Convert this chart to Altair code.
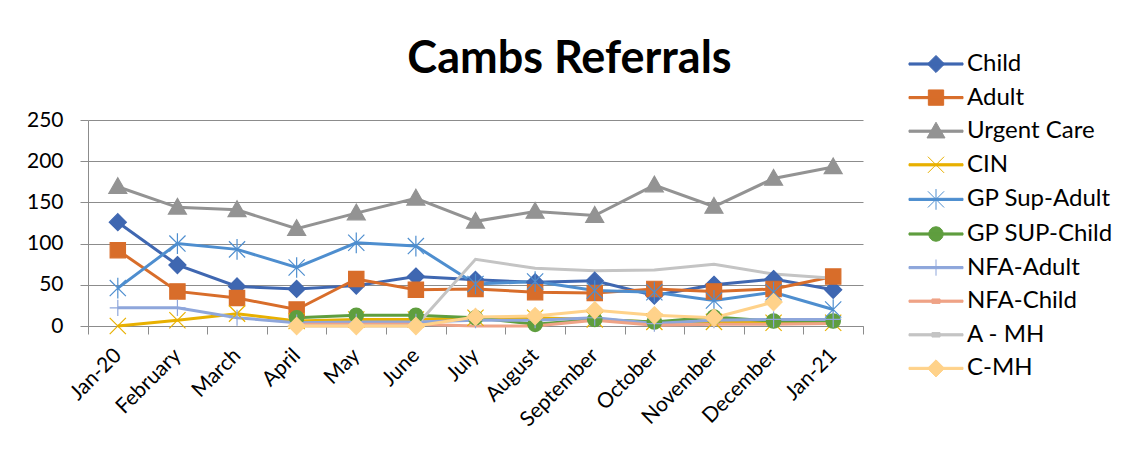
import altair as alt
import pandas as pd

months = ["Jan-20", "February", "March", "April", "May", "June", "July",
          "August", "September", "October", "November", "December", "Jan-21"]
series_names = ["Child", "Adult", "Urgent Care", "CIN", "GP Sup-Adult",
                "GP SUP-Child", "NFA-Adult", "NFA-Child", "A - MH", "C-MH"]

child = [126, 74, 48, 45, 49, 60, 56, 53, 55, 37, 50, 57, 44]
adult = [92, 42, 34, 20, 57, 44, 45, 41, 40, 45, 42, 45, 60]
urgent_care = [169, 144, 141, 118, 137, 155, 127, 139, 134, 171, 145, 179, 193]
cin = [0, 7, 15, 6, 8, 8, 10, 10, 8, 5, 5, 4, 4]
gp_sup_adult = [46, 100, 93, 71, 101, 97, 51, 54, 43, 41, 31, 41, 20]
gp_sup_child = [None, None, None, 10, 13, 13, 10, 2, 8, 5, 11, 6, 6]
nfa_adult = [22, 22, 10, 4, 5, 5, 7, 7, 10, 3, 7, 8, 8]
nfa_child = [None, None, None, 2, 2, 2, 0, 0, 7, 1, 2, 2, 3]
a_mh = [None, None, None, 0, 0, 0, 81, 70, 67, 68, 75, 63, 58]
c_mh = [None, None, None, 0, 0, 0, 11, 12, 19, 13, 10, 29, None]

all_values = [child, adult, urgent_care, cin, gp_sup_adult,
              gp_sup_child, nfa_adult, nfa_child, a_mh, c_mh]

colors = ["#3F67B1", "#D86D2A", "#939393", "#E8B000", "#4E8ECF",
          "#5F9E3F", "#8EA6DB", "#EFA386", "#C4C4C4", "#FFD28A"]

# marker shapes (unit paths) for the plotted points
marker_series = ["Child", "Adult", "Urgent Care", "CIN", "GP Sup-Adult",
                 "GP SUP-Child", "NFA-Adult", "C-MH"]
marker_paths = [
    "M0,-0.95L0.95,0L0,0.95L-0.95,0Z",
    "M-0.85,-0.85H0.85V0.85H-0.85Z",
    "M0,-1L1,0.75H-1Z",
    "M-0.9,-0.9L0.9,0.9M-0.9,0.9L0.9,-0.9",
    "M-0.9,-0.9L0.9,0.9M-0.9,0.9L0.9,-0.9M0,-1.15V1.15",
    "M-0.8,0A0.8,0.8,0,1,1,0.8,0A0.8,0.8,0,1,1,-0.8,0Z",
    "M-0.9,0H0.9M0,-0.9V0.9",
    "M0,-0.95L0.95,0L0,0.95L-0.95,0Z",
]
marker_colors = [colors[series_names.index(s)] for s in marker_series]

# legend symbols: line segment plus marker (unit paths)
LINE = "M-5,-0.12H1V0.12H-5Z"
legend_marks = {
    "Child": "M-2,-0.95L-1.05,0L-2,0.95L-2.95,0Z",
    "Adult": "M-2.85,-0.85H-1.15V0.85H-2.85Z",
    "Urgent Care": "M-2,-1L-1,0.75H-3Z",
    "CIN": "M-2.9,-0.9L-1.1,0.9M-2.9,0.9L-1.1,-0.9",
    "GP Sup-Adult": "M-2.9,-0.9L-1.1,0.9M-2.9,0.9L-1.1,-0.9M-2,-1.15V1.15",
    "GP SUP-Child": "M-2.8,0A0.8,0.8,0,1,1,-1.2,0A0.8,0.8,0,1,1,-2.8,0Z",
    "NFA-Adult": "M-2,-0.9V0.9",
    "NFA-Child": "M-2.45,-0.25H-1.55V0.25H-2.45Z",
    "A - MH": "M-2.45,-0.25H-1.55V0.25H-2.45Z",
    "C-MH": "M-2,-0.95L-1.05,0L-2,0.95L-2.95,0Z",
}
shape_expr = "'" + LINE + "'"
for name in reversed(series_names):
    shape_expr = "datum.value === '" + name + "' ? '" + LINE + legend_marks[name] + "' : " + shape_expr

rows = []
for name, vals in zip(series_names, all_values):
    for m, v in zip(months, vals):
        if v is not None:
            rows.append({"month": m, "series": name, "value": v})
df = pd.DataFrame(rows)
df_markers = df[df["series"].isin(marker_series)]

GRID = "#8C8C8C"

x_enc = alt.X(
    "month:N", sort=months, bandPosition=0.5,
    scale=alt.Scale(type="band", paddingInner=0, paddingOuter=0),
    axis=alt.Axis(title=None, labelAngle=-45, labelAlign="right", labelBaseline="middle",
                  labelFont="Lato", labelFontSize=21, labelColor="black", labelPadding=18,
                  tickBand="extent", tickSize=8, tickColor=GRID, domainColor=GRID,
                  grid=False, labelOverlap=False),
)
y_enc = alt.Y(
    "value:Q",
    scale=alt.Scale(domain=[0, 250], nice=False),
    axis=alt.Axis(title=None, values=[0, 50, 100, 150, 200, 250], labelFont="Lato",
                  labelFontSize=21, labelColor="black", labelPadding=17, tickSize=8,
                  tickColor=GRID, domainColor=GRID, gridColor=GRID, grid=True),
)
color_scale = alt.Scale(domain=series_names, range=colors)

legend = alt.Legend(
    orient="none", legendX=854, legendY=-68, symbolSize=324, symbolStrokeWidth=1,
    symbolType={"expr": shape_expr},
    symbolFillColor={"expr": "scale('color', datum.value)"},
    symbolStrokeColor={"expr": "scale('color', datum.value)"},
    symbolOpacity=1,
    labelFont="Lato", labelFontSize=24, labelColor="black", labelOffset=1,
    rowPadding=9.6, labelLimit=300,
)

lines = alt.Chart(df).mark_line(strokeWidth=3).encode(
    x=x_enc, y=y_enc,
    color=alt.Color("series:N", scale=color_scale, sort=series_names, title=None, legend=legend),
    order=alt.Order("x_order:Q"),
).transform_calculate(x_order="indexof(" + str(months) + ", datum.month)")

points = alt.Chart(df_markers).mark_point(filled=True, size=324, strokeWidth=1.2, opacity=1).encode(
    x=x_enc, y=y_enc,
    color=alt.Color("series:N", scale=color_scale, sort=series_names, legend=None),
    stroke=alt.Stroke("series:N", scale=alt.Scale(domain=marker_series, range=marker_colors), legend=None),
    shape=alt.Shape("series:N", scale=alt.Scale(domain=marker_series, range=marker_paths), legend=None),
)

chart = alt.layer(lines, points).properties(
    width=775, height=206,
    padding={"left": 80, "top": 112, "right": 250, "bottom": 131},
    autosize=alt.AutoSizeParams(type="none"),
    title=alt.TitleParams("Cambs Referrals", font="Lato", fontSize=45, fontWeight="bold",
                          color="black", anchor="middle", frame="group", dx=94, dy=111,
                          offset=45, baseline="alphabetic"),
).configure(font="Lato").configure_view(strokeWidth=0)

chart.save("out.html", embed_options={"renderer": "svg", "actions": False})
